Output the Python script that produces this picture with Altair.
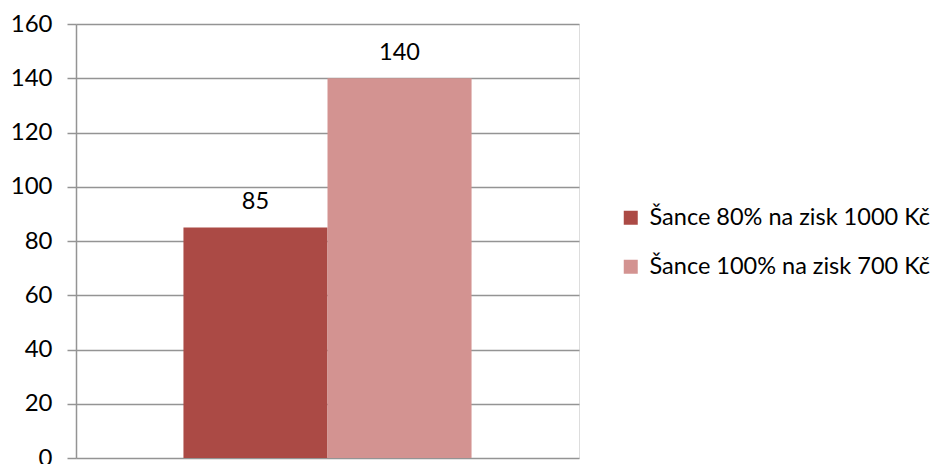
import altair as alt
import pandas as pd

# Two offers compared on a single 0-160 scale
series = ["Šance 80% na zisk 1000 Kč", "Šance 100% na zisk 700 Kč"]
values = [85, 140]
colors = ["#AB4A45", "#D39391"]
y_ticks = [0, 20, 40, 60, 80, 100, 120, 140, 160]

df = pd.DataFrame({"series": series, "value": values})

FONT = "Lato"
GRID = "#949494"

x_enc = alt.X(
    "series:N",
    sort=series,
    axis=None,
    scale=alt.Scale(paddingInner=0, paddingOuter=0.746),
)
y_enc = alt.Y(
    "value:Q",
    scale=alt.Scale(domain=[0, 160], nice=False, zero=True),
    axis=alt.Axis(
        values=y_ticks,
        title=None,
        grid=True,
        gridColor=GRID,
        gridWidth=1.5,
        domainColor=GRID,
        domainWidth=1.5,
        tickColor=GRID,
        tickWidth=1.5,
        tickSize=9,
        labelPadding=15,
        labelFont=FONT,
        labelFontSize=24,
        labelColor="#000000",
    ),
)

bars = alt.Chart(df).mark_bar(strokeWidth=0).encode(
    x=x_enc,
    y=y_enc,
    color=alt.Color(
        "series:N",
        sort=series,
        scale=alt.Scale(domain=series, range=colors),
        legend=alt.Legend(
            title=None,
            orient="none",
            legendX=543,
            legendY=182,
            symbolType="square",
            symbolSize=196,
            symbolStrokeWidth=0,
            labelFont=FONT,
            labelFontSize=23.5,
            labelColor="#000000",
            labelOffset=7,
            rowPadding=24,
            labelLimit=400,
        ),
    ),
)

labels = alt.Chart(df).mark_text(
    dy=-18, baseline="alphabetic", font=FONT, fontSize=23.5, color="#000000"
).encode(x=x_enc, y=y_enc, text="value:Q")

chart = (
    alt.layer(bars, labels)
    .properties(
        width=503,
        height=434,
        autosize=alt.AutoSizeParams(type="none"),
        padding={"left": 76, "top": 24, "right": 353, "bottom": 6},
    )
    .configure_view(stroke=None)
    .configure(background="#ffffff")
)

chart.save("out.html", embed_options={"renderer": "svg", "actions": False})
